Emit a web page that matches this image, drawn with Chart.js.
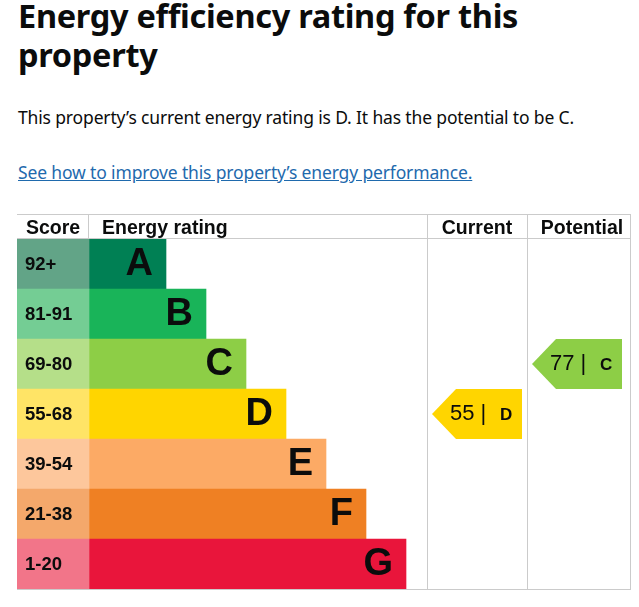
<!DOCTYPE html>
<html><head><meta charset="utf-8">
<script src="https://cdn.jsdelivr.net/npm/chart.js@4/dist/chart.umd.min.js"></script>
<style>
body{margin:0;background:#fff;width:639px;height:607px;overflow:hidden;position:relative;font-family:"Noto Sans",sans-serif;color:#0b0c0c}
h1{position:absolute;left:18px;top:-4px;margin:0;font-size:32.5px;line-height:39px;font-weight:700;letter-spacing:-0.3px;white-space:nowrap}
p.lead{position:absolute;left:18px;top:105px;margin:0;font-size:17.5px;letter-spacing:-0.15px;white-space:nowrap}
a.more{position:absolute;left:18px;top:160px;font-size:17.5px;letter-spacing:-0.15px;color:#1f6aad;white-space:nowrap}
#wrap{position:absolute;left:0;top:200px;width:639px;height:407px}
</style></head>
<body>
<h1>Energy efficiency rating for this<br>property</h1>
<p class="lead">This property’s current energy rating is D. It has the potential to be C.</p>
<a class="more" href="#">See how to improve this property’s energy performance.</a>
<div id="wrap"><canvas id="c" width="639" height="407"></canvas></div>
<script>
// ---- data ----
const ratings = ['A','B','C','D','E','F','G'];
const scoreBands = ['92+','81-91','69-80','55-68','39-54','21-38','1-20'];
const barLengths = [77,117,157,197,237,277,317];
const barColors = ['#008054','#19b459','#8dce46','#ffd500','#fcaa65','#ef8023','#e9153b'];
const scoreColors = ['#62a487','#74cd94','#b5df89','#ffe466','#fdc79c','#f4a86b','#f27589'];
const columnHeaders = ['Score','Energy rating','Current','Potential'];
const currentScore = 55, currentRating = 'D';
const potentialScore = 77, potentialRating = 'C';

// ---- layout (scale units) ----
const SCORE_COL = 72;
const CURRENT_COL = [338, 438];
const POTENTIAL_COL = [438, 542];
const FONT = '"Liberation Sans", Arial, sans-serif';

const epcPlugin = {
  id: 'epc',
  afterDatasetsDraw(chart) {
    const ctx = chart.ctx, xs = chart.scales.x, ys = chart.scales.y, a = chart.chartArea;
    const headerTop = a.top - 25;
    const rowH = ys.getPixelForValue(1) - ys.getPixelForValue(0);
    ctx.save();
    // grid lines
    ctx.strokeStyle = '#cbcbcb'; ctx.lineWidth = 1;
    const hline = (y, x1, x2) => { ctx.beginPath(); ctx.moveTo(x1, y); ctx.lineTo(x2, y); ctx.stroke(); };
    const vline = (x, y1, y2) => { ctx.beginPath(); ctx.moveTo(x, y1); ctx.lineTo(x, y2); ctx.stroke(); };
    hline(headerTop + 0.5, a.left, a.right);
    hline(a.top - 0.5, a.left, a.right);
    hline(a.bottom + 0.5, a.left, a.right);
    vline(Math.round(xs.getPixelForValue(0)) - 0.5, headerTop, a.top);
    vline(Math.round(xs.getPixelForValue(CURRENT_COL[0])) + 0.5, headerTop, a.bottom);
    vline(Math.round(xs.getPixelForValue(POTENTIAL_COL[0])) + 0.5, headerTop, a.bottom);
    vline(a.right - 0.5, headerTop, a.bottom);
    // header text
    ctx.fillStyle = '#0b0c0c';
    ctx.font = 'bold 19.5px ' + FONT;
    ctx.textBaseline = 'alphabetic';
    const hy = headerTop + 20;
    ctx.textAlign = 'center';
    ctx.fillText(columnHeaders[0], (xs.getPixelForValue(-SCORE_COL) + xs.getPixelForValue(0)) / 2, hy);
    ctx.textAlign = 'left';
    ctx.fillText(columnHeaders[1], xs.getPixelForValue(0) + 13, hy);
    ctx.textAlign = 'center';
    ctx.fillText(columnHeaders[2], (xs.getPixelForValue(CURRENT_COL[0]) + xs.getPixelForValue(CURRENT_COL[1])) / 2, hy);
    ctx.fillText(columnHeaders[3], (xs.getPixelForValue(POTENTIAL_COL[0]) + xs.getPixelForValue(POTENTIAL_COL[1])) / 2 + 3, hy);
    // row text
    ctx.textBaseline = 'middle';
    ratings.forEach((r, i) => {
      const yc = ys.getPixelForValue(i);
      ctx.textAlign = 'left';
      ctx.font = 'bold 18.5px ' + FONT;
      ctx.fillText(scoreBands[i], a.left + 8, yc + 1);
      ctx.textAlign = 'right';
      ctx.font = 'bold 38px ' + FONT;
      ctx.fillText(r, xs.getPixelForValue(barLengths[i]) - 13, yc + 1);
    });
    // arrows
    const arrow = (col, score, rating) => {
      const i = ratings.indexOf(rating);
      const yc = ys.getPixelForValue(i), h = rowH / 2;
      const l = xs.getPixelForValue(col[0] + 5), r = xs.getPixelForValue(col[0] + 95);
      ctx.fillStyle = barColors[i];
      ctx.beginPath();
      ctx.moveTo(l, yc); ctx.lineTo(l + 24, yc - h); ctx.lineTo(r, yc - h);
      ctx.lineTo(r, yc + h); ctx.lineTo(l + 24, yc + h); ctx.closePath(); ctx.fill();
      ctx.fillStyle = '#0b0c0c';
      ctx.textAlign = 'left'; ctx.textBaseline = 'middle';
      ctx.font = '22px ' + FONT;
      ctx.fillText(score + ' |', l + 18, yc);
      ctx.font = 'bold 17px ' + FONT;
      ctx.fillText(rating, l + 68, yc + 1);
    };
    arrow(CURRENT_COL, currentScore, currentRating);
    arrow(POTENTIAL_COL, potentialScore, potentialRating);
    ctx.restore();
  }
};

const common = { grouped: false, barPercentage: 1, categoryPercentage: 1, borderWidth: 0, borderSkipped: false };
new Chart(document.getElementById('c'), {
  type: 'bar',
  data: {
    labels: ratings,
    datasets: [
      Object.assign({ label: 'Score', data: ratings.map(() => [-SCORE_COL, 0]), backgroundColor: scoreColors }, common),
      Object.assign({ label: 'Energy rating', data: barLengths.map(v => [0, v]), backgroundColor: barColors }, common)
    ]
  },
  options: {
    indexAxis: 'y',
    responsive: false,
    animation: false,
    layout: { padding: { left: 17, right: 8, top: 39, bottom: 18 } },
    scales: {
      x: { type: 'linear', min: -SCORE_COL, max: POTENTIAL_COL[1], display: false },
      y: { display: false, offset: true }
    },
    plugins: { legend: { display: false }, tooltip: { enabled: false } }
  },
  plugins: [epcPlugin]
});
</script>
</body></html>
